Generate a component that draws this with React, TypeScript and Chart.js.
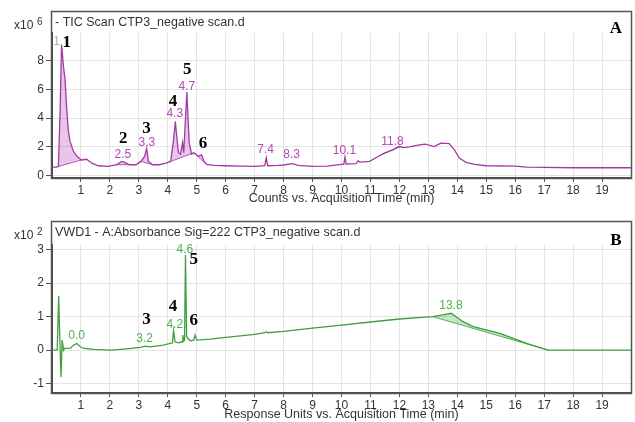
import React, { useEffect, useRef } from "react";
import { Chart, registerables } from "chart.js";
Chart.register(...registerables);

// ---------- DATA ----------
// TIC trace (Counts, x10^6) vs acquisition time (min)
const ticTime = [0.0, 0.15, 0.22, 0.28, 0.33, 0.4, 0.45, 0.51, 0.56, 0.62, 0.74, 0.86, 1.02, 1.2, 1.37, 1.6, 1.94, 2.23, 2.4, 2.5, 2.68, 2.9, 3.07, 3.2, 3.27, 3.33, 3.48, 3.71, 3.94, 4.1, 4.2, 4.26, 4.32, 4.37, 4.44, 4.51, 4.55, 4.62, 4.66, 4.69, 4.74, 4.82, 4.9, 5.05, 5.17, 5.25, 5.34, 5.6, 6.0, 6.5, 7.0, 7.35, 7.4, 7.45, 7.8, 8.0, 8.3, 8.5, 9.0, 9.5, 10.0, 10.08, 10.12, 10.16, 10.5, 10.58, 10.62, 10.97, 11.31, 11.48, 11.77, 12.0, 12.15, 12.34, 12.69, 12.9, 13.03, 13.2, 13.43, 13.72, 13.9, 14.07, 14.3, 14.6, 15.0, 16.0, 16.4, 17.0, 18.0, 20.0];
const ticCounts = [0.6, 0.6, 0.65, 4.5, 9.1, 7.5, 6.7, 4.6, 3.2, 2.4, 1.7, 1.35, 1.1, 1.15, 0.88, 0.7, 0.65, 0.77, 1.0, 0.95, 0.77, 0.77, 1.0, 1.35, 1.9, 1.0, 0.77, 0.77, 0.88, 1.0, 2.5, 3.77, 2.5, 1.6, 1.5, 2.3, 1.6, 4.35, 5.8, 4.35, 2.3, 1.5, 1.6, 1.35, 1.45, 1.0, 0.8, 0.72, 0.7, 0.68, 0.66, 0.7, 1.25, 0.7, 0.72, 0.75, 0.85, 0.72, 0.66, 0.68, 0.8, 0.8, 1.3, 0.82, 0.85, 1.05, 0.95, 1.0, 1.39, 1.57, 1.8, 2.03, 1.95, 2.0, 2.15, 2.2, 2.12, 2.03, 2.27, 2.23, 1.8, 1.23, 0.93, 0.8, 0.7, 0.68, 0.6, 0.58, 0.56, 0.56];
// integrated peak windows (min)
const ticPeakWindows = [[0.22, 1.02], [2.23, 2.68], [3.07, 3.48], [4.1, 4.9], [4.9, 5.34], [11.31, 12.0]];

// VWD trace (Response units, x10^2)
const vwdTime = [0.0, 0.18, 0.23, 0.27, 0.31, 0.35, 0.4, 0.43, 0.52, 0.63, 0.75, 0.86, 0.98, 1.1, 1.44, 2.01, 2.59, 3.05, 3.22, 3.39, 3.85, 4.08, 4.16, 4.2, 4.25, 4.37, 4.5, 4.52, 4.55, 4.58, 4.61, 4.65, 4.77, 4.9, 4.94, 5.0, 5.47, 6.0, 7.0, 7.35, 7.4, 7.45, 8.0, 9.0, 10.0, 11.0, 12.0, 13.15, 13.5, 13.79, 14.2, 14.55, 15.47, 15.93, 16.39, 17.14, 20.0];
const vwdResponse = [0.0, 0.0, 1.62, 0.3, -0.8, 0.3, 0.0, 0.05, 0.05, 0.06, 0.15, 0.2, 0.1, 0.05, 0.02, 0.0, 0.04, 0.08, 0.12, 0.1, 0.15, 0.2, 0.22, 0.58, 0.25, 0.22, 0.25, 0.45, 0.27, 0.3, 2.84, 0.4, 0.28, 0.3, 0.45, 0.3, 0.33, 0.38, 0.47, 0.52, 0.55, 0.52, 0.56, 0.66, 0.75, 0.84, 0.93, 1.0, 1.05, 1.1, 0.85, 0.7, 0.5, 0.35, 0.2, 0.0, 0.0];
const vwdPeakWindows = [[13.15, 17.14]];

const xTicks = [1, 2, 3, 4, 5, 6, 7, 8, 9, 10, 11, 12, 13, 14, 15, 16, 17, 18, 19];
const ticYTicks = [0, 2, 4, 6, 8];
const vwdYTicks = [-1, 0, 1, 2, 3];

// retention-time labels and compound numbers (placed in data units)
const ticRtLabels = [
  { t: 2.45, v: 1.46, text: "2.5" },
  { t: 3.28, v: 2.31, text: "3.3" },
  { t: 4.24, v: 4.28, text: "4.3" },
  { t: 4.66, v: 6.2, text: "4.7" },
  { t: 7.38, v: 1.8, text: "7.4" },
  { t: 8.28, v: 1.46, text: "8.3" },
  { t: 10.1, v: 1.74, text: "10.1" },
  { t: 11.76, v: 2.36, text: "11.8" },
];
const ticFaintLabels = [{ t: 0.16, v: 9.3, text: "1" }];
const ticCompounds = [
  { t: 0.51, v: 9.2, text: "1" },
  { t: 2.46, v: 2.6, text: "2" },
  { t: 3.26, v: 3.3, text: "3" },
  { t: 4.18, v: 5.16, text: "4" },
  { t: 4.67, v: 7.35, text: "5" },
  { t: 5.22, v: 2.2, text: "6" },
];
const vwdRtLabels = [
  { t: 0.85, v: 0.42, text: "0.0" },
  { t: 3.2, v: 0.35, text: "3.2" },
  { t: 4.24, v: 0.75, text: "4.2" },
  { t: 4.59, v: 2.99, text: "4.6" },
  { t: 13.78, v: 1.34, text: "13.8" },
];
const vwdCompounds = [
  { t: 3.26, v: 0.9, text: "3" },
  { t: 4.18, v: 1.29, text: "4" },
  { t: 4.9, v: 2.71, text: "5" },
  { t: 4.9, v: 0.87, text: "6" },
];

// ---------- CHART ----------
type Note = { t: number; v: number; text: string };
type PanelCfg = {
  time: number[];
  values: number[];
  windows: number[][];
  yTicks: number[];
  yMin: number;
  yMax: number;
  lineColor: string;
  fillColor: string;
  labelColor: string;
  title: string;
  exponent: string;
  xTitle: string;
  letter: string;
  rtLabels: Note[];
  faint: Note[];
  compounds: Note[];
  padTop: number;
  frameTop: number;
  xAxisHeight: number;
  xTitleBottom: number;
};

const SANS = '"Liberation Sans", Arial, sans-serif';
const SERIF = '"Liberation Serif", "Times New Roman", serif';

function makeDecor(c: PanelCfg) {
  return {
    id: "decor",
    beforeDatasetsDraw(chart: any) {
      const { ctx, scales } = chart;
      const x = scales.x, y = scales.y;
      ctx.save();
      ctx.beginPath();
      ctx.rect(chart.chartArea.left, chart.chartArea.top, chart.chartArea.right - chart.chartArea.left, chart.chartArea.bottom - chart.chartArea.top);
      ctx.clip();
      for (const [a, b] of c.windows) {
        const pts: number[][] = [];
        c.time.forEach((t, i) => {
          if (t >= a && t <= b) pts.push([x.getPixelForValue(t), y.getPixelForValue(c.values[i])]);
        });
        if (pts.length < 2) continue;
        ctx.beginPath();
        pts.forEach((p, i) => (i ? ctx.lineTo(p[0], p[1]) : ctx.moveTo(p[0], p[1])));
        ctx.closePath();
        ctx.fillStyle = c.fillColor;
        ctx.fill();
        ctx.beginPath();
        ctx.moveTo(pts[0][0], pts[0][1]);
        ctx.lineTo(pts[pts.length - 1][0], pts[pts.length - 1][1]);
        ctx.strokeStyle = c.lineColor;
        ctx.lineWidth = 0.8;
        ctx.stroke();
      }
      ctx.restore();
    },
    afterDraw(chart: any) {
      const { ctx, chartArea, scales } = chart;
      const x = scales.x, y = scales.y;
      ctx.save();
      // frame
      ctx.strokeStyle = "#555";
      ctx.lineWidth = 1.5;
      ctx.strokeRect(chartArea.left - 0.5, c.frameTop + 0.5, chartArea.right - chartArea.left + 1, chartArea.bottom - c.frameTop);
      // title
      ctx.fillStyle = "#333";
      ctx.font = `12.5px ${SANS}`;
      ctx.textAlign = "left";
      ctx.textBaseline = "middle";
      ctx.fillText(c.title, chartArea.left + 3, c.frameTop + 12);
      // multiplier
      ctx.font = `12px ${SANS}`;
      ctx.fillText("x10", 14, c.frameTop + 15);
      ctx.font = `10px ${SANS}`;
      ctx.fillText(c.exponent, 37, c.frameTop + 11);
      // retention labels
      ctx.textAlign = "center";
      ctx.font = `12px ${SANS}`;
      ctx.fillStyle = c.labelColor;
      for (const n of c.rtLabels) ctx.fillText(n.text, x.getPixelForValue(n.t), y.getPixelForValue(n.v));
      ctx.fillStyle = "#b8a8b8";
      for (const n of c.faint) ctx.fillText(n.text, x.getPixelForValue(n.t), y.getPixelForValue(n.v));
      // compound numbers
      ctx.fillStyle = "#000";
      ctx.font = `bold 17px ${SERIF}`;
      for (const n of c.compounds) ctx.fillText(n.text, x.getPixelForValue(n.t), y.getPixelForValue(n.v));
      ctx.fillText(c.letter, chartArea.right - 15, chartArea.top - 4);
      ctx.restore();
    },
  };
}

function Panel({ cfg }: { cfg: PanelCfg }) {
  const ref = useRef<HTMLCanvasElement>(null);
  useEffect(() => {
    if (!ref.current) return;
    const chart = new Chart(ref.current, {
      type: "line",
      data: {
        datasets: [
          {
            data: cfg.time.map((t, i) => ({ x: t, y: cfg.values[i] })),
            borderColor: cfg.lineColor,
            borderWidth: 1.3,
            pointRadius: 0,
            tension: 0,
            fill: false,
          },
        ],
      },
      options: {
        responsive: false,
        animation: false,
        devicePixelRatio: 1,
        layout: { padding: { top: cfg.padTop, right: 4, left: 0, bottom: 0 } },
        plugins: { legend: { display: false }, tooltip: { enabled: false } },
        scales: {
          x: {
            type: "linear",
            min: 0,
            max: 20,
            afterBuildTicks: (s: any) => {
              s.ticks = xTicks.map((v) => ({ value: v }));
            },
            afterFit: (s: any) => {
              s.height = cfg.xAxisHeight;
            },
            ticks: { color: "#333", font: { family: SANS, size: 12 }, maxRotation: 0, autoSkip: false, padding: 1 },
            grid: { color: "#e4e4e4", tickColor: "#555", tickLength: 4 },
            border: { color: "#4a4a4a", width: 2 },
            title: {
              display: true,
              text: cfg.xTitle,
              color: "#333",
              font: { family: SANS, size: 12.5 },
              padding: { top: 0, bottom: cfg.xTitleBottom },
            },
          },
          y: {
            type: "linear",
            min: cfg.yMin,
            max: cfg.yMax,
            afterBuildTicks: (s: any) => {
              s.ticks = cfg.yTicks.map((v) => ({ value: v }));
            },
            afterFit: (s: any) => {
              s.width = 52;
            },
            ticks: { color: "#333", font: { family: SANS, size: 12 }, padding: 2 },
            grid: { color: "#e4e4e4", tickColor: "#555", tickLength: 6 },
            border: { color: "#4a4a4a", width: 2 },
          },
        },
      },
      plugins: [makeDecor(cfg)],
    } as any);
    return () => chart.destroy();
  }, [cfg]);
  return <canvas ref={ref} width={635} height={211} style={{ display: "block" }} />;
}

const topCfg: PanelCfg = {
  time: ticTime,
  values: ticCounts,
  windows: ticPeakWindows,
  yTicks: ticYTicks,
  yMin: -0.15,
  yMax: 9.9,
  lineColor: "#a23aa6",
  fillColor: "rgba(178, 82, 184, 0.32)",
  labelColor: "#b347b9",
  title: "- TIC Scan CTP3_negative scan.d",
  exponent: "6",
  xTitle: "Counts vs. Acquisition Time (min)",
  letter: "A",
  rtLabels: ticRtLabels,
  faint: ticFaintLabels,
  compounds: ticCompounds,
  padTop: 33,
  frameTop: 11,
  xAxisHeight: 33,
  xTitleBottom: 5,
};

const bottomCfg: PanelCfg = {
  time: vwdTime,
  values: vwdResponse,
  windows: vwdPeakWindows,
  yTicks: vwdYTicks,
  yMin: -1.28,
  yMax: 3.14,
  lineColor: "#3f9e3f",
  fillColor: "rgba(70, 170, 70, 0.3)",
  labelColor: "#4cb34c",
  title: "VWD1 - A:Absorbance Sig=222 CTP3_negative scan.d",
  exponent: "2",
  xTitle: "Response Units vs. Acquisition Time (min)",
  letter: "B",
  rtLabels: vwdRtLabels,
  faint: [],
  compounds: vwdCompounds,
  padTop: 34,
  frameTop: 10,
  xAxisHeight: 29,
  xTitleBottom: 0,
};

export default function App() {
  return (
    <div style={{ position: "fixed", left: 0, top: 0, width: 635, height: 422, background: "#fff" }}>
      <Panel cfg={topCfg} />
      <Panel cfg={bottomCfg} />
    </div>
  );
}
